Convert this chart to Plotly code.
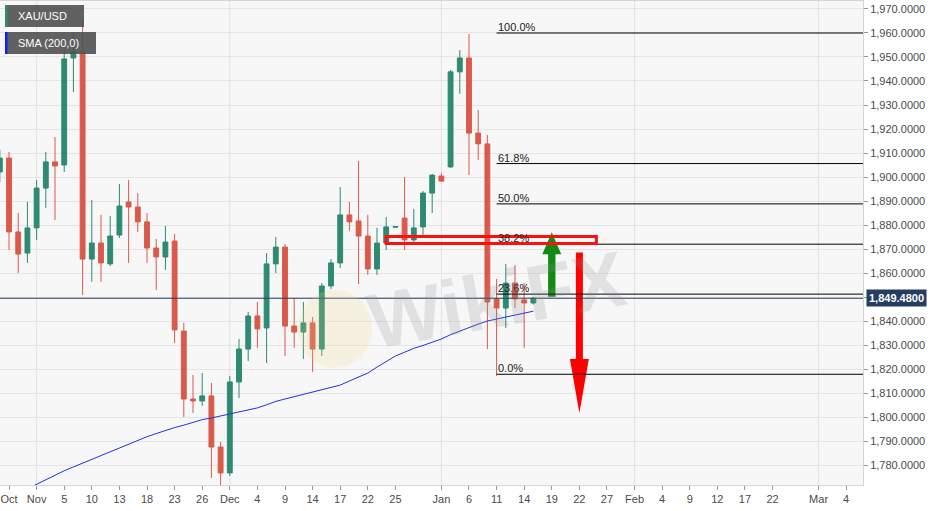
import pandas as pd
import plotly.graph_objects as go

# daily XAU/USD candles, 27 Oct 2020 .. 15 Jan 2021 (weekdays)
dates = pd.bdate_range("2020-10-27", "2021-01-15")
opens = [1902.1, 1907.9, 1877.1, 1868.3, 1878.8, 1895.4, 1906.3, 1905.0, 1949.6, 1951.7,
         1865.8, 1872.5, 1863.8, 1875.8, 1889.6, 1887.5, 1881.3, 1870.4, 1866.7, 1873.3,
         1835.8, 1807.5, 1806.7, 1808.8, 1787.5, 1776.7, 1814.6, 1828.3, 1842.1, 1837.1,
         1863.8, 1870.8, 1837.9, 1835.4, 1839.2, 1828.3, 1854.6, 1864.2, 1884.2, 1881.7,
         1875.4, 1861.7, 1872.5, 1879.1, 1882.9, 1873.8, 1879.2, 1893.3, 1900.4, 1904.2,
         1943.8, 1949.6, 1918.3, 1913.8, 1849.2, 1845.4, 1855.8, 1848.8, 1847.5]
highs = [1911.3, 1910.4, 1885.0, 1889.6, 1898.8, 1910.4, 1916.7, 1952.9, 1960.4, 1965.4,
         1890.4, 1884.2, 1883.8, 1897.1, 1898.8, 1893.3, 1885.0, 1874.2, 1879.6, 1876.3,
         1839.2, 1817.5, 1818.3, 1814.2, 1789.6, 1817.1, 1832.5, 1843.8, 1847.9, 1868.3,
         1875.0, 1872.1, 1849.6, 1847.9, 1841.7, 1855.8, 1865.8, 1895.8, 1889.6, 1906.7,
         1884.2, 1878.8, 1883.3, 1879.4, 1900.0, 1886.7, 1894.2, 1901.3, 1901.7, 1944.6,
         1952.9, 1959.6, 1927.9, 1917.5, 1857.5, 1863.8, 1863.3, 1855.8, 1850.0]
lows = [1897.9, 1869.6, 1860.0, 1864.2, 1873.8, 1887.1, 1882.1, 1902.1, 1935.4, 1850.8,
        1856.3, 1856.3, 1862.9, 1874.6, 1864.2, 1877.1, 1864.2, 1852.9, 1861.3, 1830.8,
        1800.0, 1801.7, 1804.6, 1774.6, 1767.0, 1775.4, 1807.9, 1823.3, 1828.8, 1822.5,
        1860.0, 1825.4, 1828.8, 1824.2, 1818.8, 1825.4, 1853.3, 1862.1, 1877.5, 1855.4,
        1859.2, 1859.2, 1869.6, 1879.0, 1869.6, 1871.7, 1875.4, 1885.0, 1898.0, 1903.8,
        1934.6, 1900.8, 1907.1, 1828.3, 1817.1, 1837.1, 1845.4, 1828.8, 1846.9]
closes = [1907.9, 1877.1, 1867.9, 1878.8, 1895.4, 1906.3, 1904.6, 1949.2, 1952.1, 1865.8,
          1872.5, 1864.2, 1875.4, 1887.9, 1887.5, 1881.3, 1870.4, 1866.7, 1872.9, 1836.3,
          1807.5, 1806.7, 1808.8, 1787.5, 1776.7, 1814.6, 1828.3, 1842.1, 1836.7, 1863.8,
          1870.8, 1837.9, 1835.4, 1839.2, 1828.3, 1854.6, 1864.2, 1884.2, 1881.3, 1875.4,
          1861.7, 1872.5, 1879.2, 1879.3, 1873.8, 1878.8, 1893.3, 1900.8, 1898.3, 1943.8,
          1949.6, 1918.3, 1913.8, 1847.9, 1845.4, 1855.8, 1849.2, 1847.5, 1849.48]
sma = [None, None, None, 1770.1, 1772.0, 1773.9, 1775.8, 1777.6, 1779.2, 1780.8,
       1782.4, 1783.9, 1785.4, 1787.0, 1788.7, 1790.3, 1791.8, 1793.1, 1794.4, 1795.6,
       1796.6, 1797.9, 1798.9, 1799.6, 1800.4, 1801.3, 1802.1, 1802.9, 1803.8, 1805.1,
       1806.5, 1807.5, 1808.5, 1809.4, 1810.4, 1811.5, 1812.4, 1813.3, 1815.0, 1816.7,
       1818.3, 1820.8, 1823.2, 1825.4, 1827.0, 1828.6, 1829.8, 1831.2, 1832.5, 1834.3,
       1835.8, 1837.4, 1838.7, 1840.0, 1840.8, 1841.5, 1842.3, 1843.2, 1844.1]

last_price = 1849.48

fib_levels = [1960.0, 1905.6, 1888.8, 1872.0, 1851.2, 1817.8]
fib_labels = ["100.0%", "61.8%", "50.0%", "38.2%", "23.6%", "0.0%"]
fib_start = "2021-01-11"

zone_lo, zone_hi = 1872.3, 1875.2
zone_from, zone_to = "2020-12-24", "2021-01-26"

up_day, up_tip, up_base, up_tail = "2021-01-19", 1877.0, 1867.8, 1850.1
dn_day, dn_tail, dn_base, dn_tip = "2021-01-22", 1868.5, 1824.2, 1801.7

tick_dates = ["2020-10-28", "2020-11-02", "2020-11-05", "2020-11-10", "2020-11-13",
              "2020-11-18", "2020-11-23", "2020-11-26", "2020-12-01", "2020-12-04",
              "2020-12-09", "2020-12-14", "2020-12-17", "2020-12-22", "2020-12-25",
              "2021-01-01", "2021-01-06", "2021-01-11", "2021-01-14", "2021-01-19",
              "2021-01-22", "2021-01-27", "2021-02-01", "2021-02-04", "2021-02-09",
              "2021-02-12", "2021-02-17", "2021-02-22", "2021-03-01", "2021-03-04"]
tick_text = ["Oct", "Nov", "5", "10", "13", "18", "23", "26", "Dec", "4", "9", "14", "17",
             "22", "25", "Jan", "6", "11", "14", "19", "22", "27", "Feb", "4", "9", "12",
             "17", "22", "Mar", "4"]
month_starts = ["2020-11-02", "2020-12-01", "2021-01-01", "2021-02-01", "2021-03-01"]

# trading-day axis: every weekday is one slot
cal = pd.bdate_range("2020-10-27", "2021-03-08")
pos = pd.Series(range(len(cal)), index=cal)


def slot(d):
    return float(pos[pd.Timestamp(d)])


W, H = 940, 511
ML, MR, MT, MB = 0, 77, 1, 26
PW, PH = W - ML - MR, H - MT - MB


def pxx(p):
    return p / PW


def pxy(p):
    return 1 - (p - MT) / PH


RED = "#d95a4a"
GREEN = "#2e8a72"
FONT = "Arial, Liberation Sans, sans-serif"
x_end = 93.83

fig = go.Figure()

fig.add_trace(go.Candlestick(
    x=pos[dates].values, open=opens, high=highs, low=lows, close=closes,
    increasing=dict(line=dict(color=GREEN, width=1), fillcolor=GREEN),
    decreasing=dict(line=dict(color=RED, width=1), fillcolor=RED),
    customdata=[d.strftime("%Y-%m-%d") for d in dates],
    hoverinfo="y", showlegend=False,
))

fig.add_trace(go.Scatter(
    x=pos[dates].values, y=sma, mode="lines",
    line=dict(color="#2233dd", width=1), showlegend=False, hoverinfo="skip",
))

# arrows
c = slot(up_day)
fig.add_trace(go.Scatter(
    x=[c - 0.4, c - 0.4, c - 1.03, c, c + 1.03, c + 0.4, c + 0.4],
    y=[up_tail, up_base, up_base, up_tip, up_base, up_base, up_tail],
    fill="toself", fillcolor="#138a13", line=dict(width=0), mode="lines",
    showlegend=False, hoverinfo="skip",
))
c = slot(dn_day)
fig.add_trace(go.Scatter(
    x=[c - 0.38, c - 0.38, c - 1.03, c, c + 1.03, c + 0.38, c + 0.38],
    y=[dn_tail, dn_base, dn_base, dn_tip, dn_base, dn_base, dn_tail],
    fill="toself", fillcolor="#ff0000", line=dict(width=0), mode="lines",
    showlegend=False, hoverinfo="skip",
))

shapes = []
for m in month_starts:
    shapes.append(dict(type="line", xref="x", yref="paper", x0=slot(m), x1=slot(m),
                       y0=0, y1=1, line=dict(color="#e3e3e3", width=1), layer="below"))

# last price line
shapes.append(dict(type="line", xref="paper", yref="y", x0=0, x1=1, y0=last_price,
                   y1=last_price, line=dict(color="#2b4063", width=1)))

# fibonacci levels
for lv in fib_levels:
    shapes.append(dict(type="line", xref="x", yref="y", x0=slot(fib_start), x1=x_end,
                       y0=lv, y1=lv, line=dict(color="#000000", width=1)))

# resistance zone
shapes.append(dict(type="rect", xref="x", yref="y", x0=slot(zone_from) - 0.0,
                   x1=slot(zone_to) - 0.15, y0=zone_lo, y1=zone_hi,
                   line=dict(color="#ff1010", width=3)))

# watermark logo
shapes.append(dict(type="circle", xref="paper", yref="paper",
                   x0=pxx(298), x1=pxx(372), y0=pxy(368), y1=pxy(290),
                   fillcolor="rgba(240,215,130,0.2)", line=dict(width=0)))

# legend boxes
for (y0, y1, w, col) in [(5, 27, 84, GREEN), (32, 54, 96, "#0a22ff")]:
    shapes.append(dict(type="rect", xref="paper", yref="paper", x0=pxx(5), x1=pxx(w),
                       y0=pxy(y1), y1=pxy(y0), fillcolor="rgba(80,80,80,0.9)",
                       line=dict(width=0)))
    shapes.append(dict(type="rect", xref="paper", yref="paper", x0=pxx(5), x1=pxx(7.5),
                       y0=pxy(y1), y1=pxy(y0), fillcolor=col, line=dict(width=0)))

annotations = []
for lv, lab in zip(fib_levels, fib_labels):
    annotations.append(dict(x=slot(fib_start), y=lv, xref="x", yref="y", text=lab,
                            showarrow=False, xanchor="left", yanchor="bottom",
                            xshift=-1, yshift=-2,
                            font=dict(family=FONT, size=11, color="#222222")))

for (yc, lab) in [(16, "XAU/USD"), (43, "SMA (200,0)")]:
    annotations.append(dict(x=pxx(16), y=pxy(yc), xref="paper", yref="paper", text=lab,
                            showarrow=False, xanchor="left", yanchor="middle",
                            font=dict(family=FONT, size=11, color="#ffffff")))

annotations.append(dict(x=1, y=last_price, xref="paper", yref="y",
                        text="<b>{:,.4f}</b>".format(last_price), showarrow=False,
                        xanchor="left", yanchor="middle", xshift=3,
                        bgcolor="#243d60", borderpad=2,
                        font=dict(family=FONT, size=11, color="#ffffff")))

annotations.append(dict(x=pxx(496), y=pxy(300), xref="paper", yref="paper",
                        text="<b>WikiFX</b>", showarrow=False, textangle=-10,
                        font=dict(family=FONT, size=78, color="rgba(140,140,140,0.2)")))

fig.update_layout(
    width=W, height=H,
    margin=dict(l=ML, r=MR, t=MT, b=MB),
    paper_bgcolor="#ffffff",
    plot_bgcolor="#f7f7f7",
    showlegend=False,
    dragmode=False,
    boxgap=0.25,
    shapes=shapes,
    annotations=annotations,
    xaxis=dict(
        range=[0.02, x_end],
        tickvals=[slot(d) for d in tick_dates],
        ticktext=tick_text,
        showgrid=False, zeroline=False,
        ticks="outside", ticklen=4, tickcolor="#999999",
        showline=True, linecolor="#d4d4dc", mirror=True,
        tickfont=dict(family=FONT, size=11, color="#4a4a4a"),
        rangeslider=dict(visible=False),
        fixedrange=True,
    ),
    yaxis=dict(
        side="right",
        range=[1771.67, 1973.33],
        tick0=1780, dtick=10,
        tickformat=",.4f",
        gridcolor="#e4e4e4", zeroline=False,
        ticks="outside", ticklen=4, tickcolor="#999999",
        showline=True, linecolor="#d4d4dc", mirror=True,
        tickfont=dict(family=FONT, size=11, color="#4a4a4a"),
        fixedrange=True,
    ),
)

fig.write_html("out.html", config={"displayModeBar": False},
               post_script="document.body.style.margin='0';")
